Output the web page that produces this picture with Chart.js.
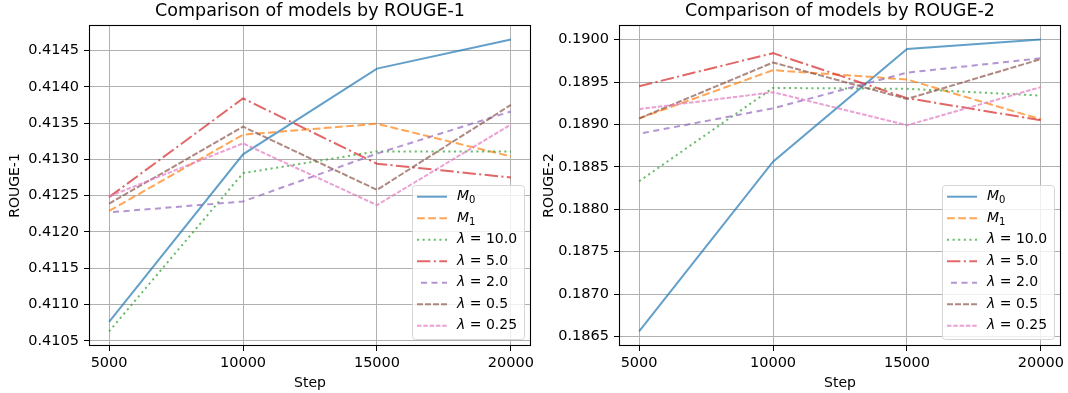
<!DOCTYPE html>
<html>
<head>
<meta charset="utf-8">
<script src="https://cdn.jsdelivr.net/npm/chart.js@4"></script>
<style>
  html, body { margin: 0; padding: 0; background: #fff; }
  .wrap { position: absolute; top: 0; width: 534px; height: 393px; }
  #w1 { left: 0; }
  #w2 { left: 534px; }
</style>
</head>
<body>
<div class="wrap" id="w1"><canvas id="chart1"></canvas></div>
<div class="wrap" id="w2"><canvas id="chart2"></canvas></div>
<script>
/* valores */
const steps = [5000, 10000, 15000, 20000];
const stepTicks = [5000, 10000, 15000, 20000];
const seriesNames = ['M₀', 'M₁', 'λ = 10.0', 'λ = 5.0', 'λ = 2.0', 'λ = 0.5', 'λ = 0.25'];

const r1M0   = [0.41076, 0.41307, 0.41425, 0.41465];
const r1M1   = [0.41229, 0.41334, 0.41349, 0.41304];
const r1L10  = [0.41063, 0.41281, 0.41311, 0.41311];
const r1L5   = [0.41248, 0.41384, 0.41294, 0.41275];
const r1L2   = [0.41227, 0.41242, 0.41308, 0.41366];
const r1L05  = [0.41239, 0.41345, 0.41258, 0.41375];
const r1L025 = [0.41249, 0.41322, 0.41237, 0.41348];
const r1Ticks = [0.4105, 0.4110, 0.4115, 0.4120, 0.4125, 0.4130, 0.4135, 0.4140, 0.4145];

const r2M0   = [0.18656, 0.18856, 0.18989, 0.19000];
const r2M1   = [0.18907, 0.18964, 0.18953, 0.18906];
const r2L10  = [0.18833, 0.18943, 0.18942, 0.18934];
const r2L5   = [0.18945, 0.18984, 0.18931, 0.18905];
const r2L2   = [0.18889, 0.18919, 0.18961, 0.18978];
const r2L05  = [0.18907, 0.18973, 0.18930, 0.18977];
const r2L025 = [0.18918, 0.18938, 0.18899, 0.18944];
const r2Ticks = [0.1865, 0.1870, 0.1875, 0.1880, 0.1885, 0.1890, 0.1895, 0.1900];

/* estilos das linhas */
const colors = [
  'rgba(31, 119, 180, 0.7)',
  'rgba(255, 127, 14, 0.7)',
  'rgba(44, 160, 44, 0.7)',
  'rgba(214, 39, 40, 0.7)',
  'rgba(148, 103, 189, 0.7)',
  'rgba(140, 86, 75, 0.7)',
  'rgba(227, 119, 194, 0.7)'
];
const dashes = [[], [7.8, 3.4], [2.1, 3.5], [13.4, 3.4, 2.1, 3.4], [6, 4.5], [6, 2], [4.5, 1.8]];
const dashOffsets = [0, 0, 0, 0, 6.5, 0, 0];

Chart.defaults.font.family = 'DejaVu Sans';
Chart.defaults.font.size = 14.5;
Chart.defaults.color = '#000';

function makeDatasets(list) {
  return list.map((vals, i) => ({
    label: seriesNames[i],
    data: steps.map((s, j) => ({ x: s, y: vals[j] })),
    borderColor: colors[i],
    backgroundColor: colors[i],
    borderWidth: 2,
    borderDash: dashes[i],
    borderDashOffset: dashOffsets[i],
    pointRadius: 0,
    tension: 0,
    fill: false,
    order: -i
  }));
}

function withMargin(list) {
  const all = list.flat();
  const lo = Math.min(...all), hi = Math.max(...all);
  const m = (hi - lo) * 0.05;
  return [lo - m, hi + m];
}

/* moldura, titulo e legenda */
const framePlugin = {
  id: 'frame',
  afterDatasetsDraw(chart) {
    const a = chart.chartArea;
    const ctx = chart.ctx;
    ctx.save();
    ctx.strokeStyle = '#000';
    ctx.lineWidth = 1.1;
    ctx.strokeRect(Math.round(a.left) + 0.5, Math.round(a.top) + 0.5,
      Math.round(a.right - a.left) - 1, Math.round(a.bottom - a.top) - 1);
    ctx.restore();
  },
  afterDraw(chart, args, opts) {
    const a = chart.chartArea;
    const ctx = chart.ctx;
    ctx.save();
    // titulo
    ctx.fillStyle = '#000';
    ctx.font = '17.5px DejaVu Sans';
    ctx.textAlign = 'center';
    ctx.textBaseline = 'alphabetic';
    ctx.fillText(opts.title, (a.left + a.right) / 2, 15.5);

    // legenda
    const w = 112, h = 154;
    const x0 = a.right - 7 - w, y0 = a.bottom - 7 - h;
    ctx.beginPath();
    ctx.roundRect(x0 + 0.5, y0 + 0.5, w, h, 3);
    ctx.fillStyle = 'rgba(255,255,255,0.8)';
    ctx.fill();
    ctx.strokeStyle = '#d6d6d6';
    ctx.lineWidth = 1;
    ctx.stroke();

    chart.data.datasets.forEach((ds, i) => {
      const cy = y0 + 11.7 + i * 21.5;
      ctx.beginPath();
      ctx.setLineDash(ds.borderDash);
      ctx.lineDashOffset = ds.borderDashOffset;
      ctx.strokeStyle = ds.borderColor;
      ctx.lineWidth = 2;
      ctx.moveTo(x0 + 5, cy);
      ctx.lineTo(x0 + 35, cy);
      ctx.stroke();
      ctx.setLineDash([]);
      drawLabel(ctx, ds.label, x0 + 45, cy);
    });
    ctx.restore();
  }
};

function drawLabel(ctx, text, x, y) {
  ctx.fillStyle = '#000';
  ctx.textAlign = 'left';
  ctx.textBaseline = 'middle';
  const subs = { '₀': '0', '₁': '1' };
  [...text].forEach((ch, k) => {
    if (subs[ch]) {
      ctx.font = '10px DejaVu Sans';
      ctx.fillText(subs[ch], x, y + 4);
      x += ctx.measureText(subs[ch]).width;
    } else {
      ctx.font = (k === 0 ? 'italic ' : '') + '14px DejaVu Sans';
      ctx.fillText(ch, x, y);
      x += ctx.measureText(ch).width;
    }
  });
}

function makeConfig(list, yTicks, yLabel, title, axisWidth, padRight) {
  const range = withMargin(list);
  return {
    type: 'line',
    data: { datasets: makeDatasets(list) },
    options: {
      responsive: true,
      maintainAspectRatio: false,
      animation: false,
      layout: { padding: { top: 25, right: padRight, bottom: 0, left: 0 } },
      plugins: {
        legend: { display: false },
        tooltip: { enabled: false },
        frame: { title: title }
      },
      scales: {
        x: {
          type: 'linear',
          min: 4250,
          max: 20750,
          afterBuildTicks: s => { s.ticks = stepTicks.map(v => ({ value: v })); },
          afterFit: s => { s.height = 47; s.paddingLeft = 0; s.paddingRight = 0; },
          ticks: { padding: 4, callback: v => String(v), maxRotation: 0 },
          grid: { color: '#b0b0b0', lineWidth: 1, tickLength: 5, tickColor: '#000' },
          border: { display: false },
          title: { display: true, text: 'Step', font: { size: 14 }, padding: { top: 0, bottom: 1 } }
        },
        y: {
          type: 'linear',
          min: range[0],
          max: range[1],
          afterBuildTicks: s => { s.ticks = yTicks.map(v => ({ value: v })); },
          afterFit: s => { s.width = axisWidth; s.paddingTop = 0; s.paddingBottom = 0; },
          ticks: { padding: 5, callback: v => v.toFixed(4) },
          grid: { color: '#b0b0b0', lineWidth: 1, tickLength: 5, tickColor: '#000' },
          border: { display: false },
          title: { display: true, text: yLabel, font: { size: 14 }, padding: { top: 7, bottom: 0 } }
        }
      }
    },
    plugins: [framePlugin]
  };
}

const r1Lists = [r1M0, r1M1, r1L10, r1L5, r1L2, r1L05, r1L025];
const r2Lists = [r2M0, r2M1, r2L10, r2L5, r2L2, r2L05, r2L025];

const myChart1 = new Chart(
  document.getElementById('chart1'),
  makeConfig(r1Lists, r1Ticks, 'ROUGE-1', 'Comparison of models by ROUGE-1', 89, 3)
);

const myChart2 = new Chart(
  document.getElementById('chart2'),
  makeConfig(r2Lists, r2Ticks, 'ROUGE-2', 'Comparison of models by ROUGE-2', 85, 7)
);
</script>
</body>
</html>
